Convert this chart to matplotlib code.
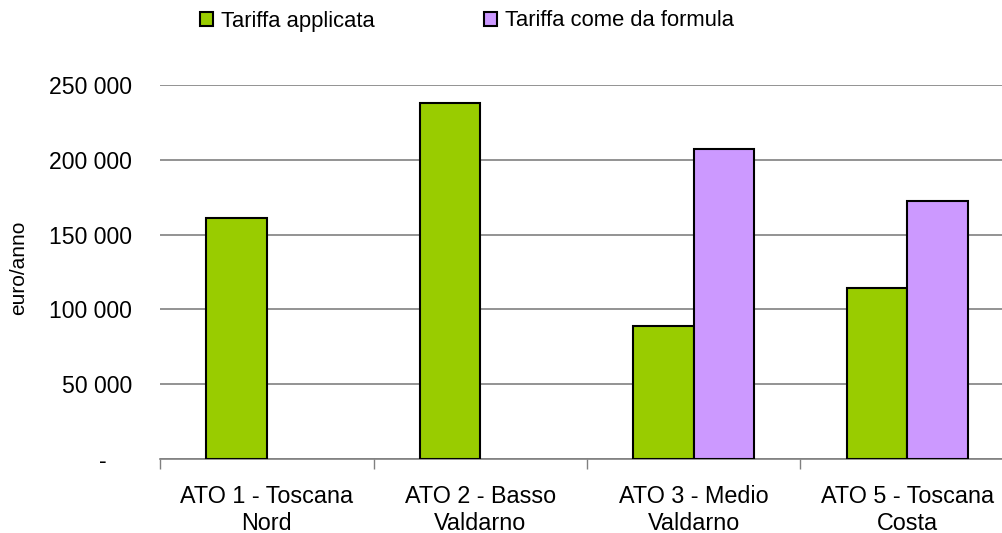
import matplotlib
matplotlib.use("Agg")
import matplotlib.pyplot as plt
import numpy as np
from matplotlib.patches import Patch

categories = ["ATO 1 - Toscana\nNord", "ATO 2 - Basso\nValdarno",
              "ATO 3 - Medio\nValdarno", "ATO 5 - Toscana\nCosta"]
series_names = ["Tariffa applicata", "Tariffa come da formula"]
tariffa_applicata = [161300, 238200, 88900, 114100]
tariffa_formula = [np.nan, np.nan, 207200, 172500]
yticks = [0, 50000, 100000, 150000, 200000, 250000]
ytick_labels = ["-    ", "50 000", "100 000", "150 000", "200 000", "250 000"]

green = "#99CC00"
purple = "#CC99FF"

plt.rcParams["font.family"] = ["Liberation Sans", "DejaVu Sans"]

W, H = 1002, 533
fig = plt.figure(figsize=(W / 100, H / 100), dpi=100)
# plot area: x 160..1014 px, y 85..459 px
left, right, top, bottom = 160, 1014, 85, 459
ax = fig.add_axes([left / W, 1 - bottom / H, (right - left) / W, (bottom - top) / H])

x = np.arange(len(categories))
bw = 0.283
ax.bar(x - bw / 2, tariffa_applicata, bw, color=green, edgecolor="black", linewidth=1.5, zorder=3)
ax.bar(x + bw / 2, tariffa_formula, bw, color=purple, edgecolor="black", linewidth=1.5, zorder=3)

ax.set_xlim(-0.5, len(categories) - 0.5)
ax.set_ylim(0, 250000)
ax.set_yticks(yticks)
ax.set_yticklabels(ytick_labels, fontsize=16.6)
ax.yaxis.grid(True, color="#808080", linewidth=1.2, zorder=0)
ax.tick_params(axis="y", length=0, pad=20)

ax.set_xticks(x)
ax.set_xticklabels(categories, fontsize=16.8, linespacing=1.2)
ax.tick_params(axis="x", length=0, pad=19)
ax.set_xticks(np.arange(-0.5, len(categories) + 0.5, 1), minor=True)
ax.tick_params(axis="x", which="minor", length=7, width=1, color="#808080", direction="out")

for s in ["top", "right", "left"]:
    ax.spines[s].set_visible(False)
ax.spines["bottom"].set_color("#808080")
ax.spines["bottom"].set_linewidth(1.2)

ax.set_ylabel("euro/anno", fontsize=15)
ax.yaxis.set_label_coords(-132 / (right - left), 0.51)

handles = [Patch(facecolor=green, edgecolor="black", linewidth=1.5),
           Patch(facecolor=purple, edgecolor="black", linewidth=1.5)]
fig.legend(handles, series_names, loc="center left", bbox_to_anchor=(200 / W, 1 - 21 / H),
           ncol=2, frameon=False, fontsize=15.8, handlelength=0.6, handleheight=0.6,
           handletextpad=0.35, columnspacing=5.0, borderaxespad=0, borderpad=0)

fig.savefig("out.png", dpi=100)
